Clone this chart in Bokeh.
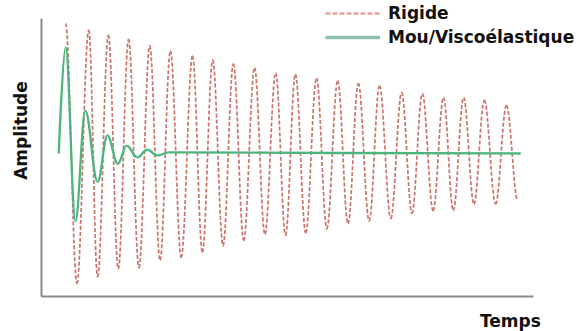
import numpy as np
from bokeh.plotting import figure
from bokeh.models import Label, Legend, LegendItem, Range1d, FixedTicker
from bokeh.embed import file_html
from bokeh.resources import INLINE

# ---- data ----
# Rigid response: alternating peaks / troughs (time, amplitude)
rigid_peak_t = [4.9, 9.6, 13.6, 17.7, 22.0, 26.2, 30.7, 34.8, 39.0, 43.3, 47.6,
                51.6, 55.9, 60.2, 64.4, 68.7, 73.2, 77.4, 81.7, 85.8, 90.0, 94.5]
rigid_peak_a = [1.00, 0.95, 0.91, 0.88, 0.83, 0.79, 0.75, 0.72, 0.69, 0.66, 0.62,
                0.61, 0.58, 0.56, 0.54, 0.52, 0.47, 0.46, 0.43, 0.43, 0.41, 0.37]
rigid_trough_t = [7.2, 11.4, 15.6, 19.8, 24.1, 28.4, 32.7, 36.9, 41.1, 45.4, 49.6,
                  53.7, 58.0, 62.3, 66.6, 71.0, 75.3, 79.6, 83.7, 87.9, 92.3, 96.8]
rigid_trough_a = [-1.00, -0.95, -0.89, -0.88, -0.82, -0.80, -0.76, -0.71, -0.67, -0.62, -0.63,
                  -0.61, -0.58, -0.54, -0.52, -0.50, -0.46, -0.44, -0.44, -0.39, -0.39, -0.36]

# Soft / viscoelastic response: start, extrema, then settled
soft_t = [3.5, 4.9, 6.9, 8.9, 11.4, 13.4, 15.5, 17.3, 19.5, 21.5, 23.6, 25.8, 97.4]
soft_a = [0.0, 0.82, -0.52, 0.33, -0.22, 0.14, -0.08, 0.06, -0.03, 0.03, -0.015, 0.008, 0.0]

labels_series = ["Rigide", "Mou/Viscoélastique"]
x_label = "Temps"
y_label = "Amplitude"

# axis extents (time 0..100, amplitude -1.1..1.04)
T_MIN, T_MAX = 0.0, 100.0
A_MIN, A_MAX = -1.1, 1.0385

RED = "#c97469"
GREEN = "#4db37f"
FONT = "DejaVu Sans"
K = 0.364  # bezier handle fraction for sine-like halves


def interleave(a, b):
    out = []
    for i in range(max(len(a), len(b))):
        if i < len(a):
            out.append(a[i])
        if i < len(b):
            out.append(b[i])
    return out


def bez_segments(ts, ys, first_free=False):
    d = dict(x0=[], y0=[], x1=[], y1=[], cx0=[], cy0=[], cx1=[], cy1=[])
    for i in range(len(ts) - 1):
        x0, y0, x1, y1 = ts[i], ys[i], ts[i + 1], ys[i + 1]
        dx = x1 - x0
        d["x0"].append(x0); d["y0"].append(y0)
        d["x1"].append(x1); d["y1"].append(y1)
        if first_free and i == 0:
            d["cx0"].append(x0); d["cy0"].append(y0)
        else:
            d["cx0"].append(x0 + K * dx); d["cy0"].append(y0)
        d["cx1"].append(x1 - K * dx); d["cy1"].append(y1)
    return d


rigid_t = interleave(rigid_peak_t, rigid_trough_t)
rigid_a = interleave(rigid_peak_a, rigid_trough_a)

W, H = 582, 331
p = figure(width=W, height=H, output_backend="svg", toolbar_location=None,
           x_range=Range1d(-8.333, 109.96), y_range=Range1d(-1.3692, 1.1769),
           min_border_left=0, min_border_right=0, min_border_top=0,
           min_border_bottom=0)
p.outline_line_color = None
p.grid.visible = False
p.background_fill_color = "white"
p.border_fill_color = "white"

p.xaxis.fixed_location = A_MIN
p.xaxis.bounds = (T_MIN, T_MAX)
p.yaxis.fixed_location = T_MIN
p.yaxis.bounds = (A_MIN, A_MAX)
for ax in (p.xaxis[0], p.yaxis[0]):
    ax.ticker = FixedTicker(ticks=[])
    ax.axis_line_color = "#8a8a8a"
    ax.axis_line_width = 2
    ax.major_tick_line_color = None
    ax.minor_tick_line_color = None

p.bezier(**bez_segments(rigid_t, rigid_a),
         line_color=RED, line_width=1.7, line_dash="4 2")
p.bezier(**bez_segments(soft_t, soft_a, first_free=True),
         line_color=GREEN, line_width=2.3)

# legend proxies (a single empty point each, so only the legend swatch shows)
nan = np.array([np.nan])
r_leg = p.line(x=nan, y=nan, line_color="#e2a59c", line_width=2.5, line_dash="5 2")
g_leg = p.line(x=nan, y=nan, line_color="#8fbfae", line_width=3.5)
legend = Legend(items=[LegendItem(label=labels_series[0], renderers=[r_leg]),
                       LegendItem(label=labels_series[1], renderers=[g_leg])],
                location=(325, 284), glyph_width=55, glyph_height=18,
                label_standoff=8, spacing=4, padding=0, margin=0,
                border_line_alpha=0, background_fill_alpha=0,
                label_text_font=FONT, label_text_font_style="bold",
                label_text_font_size="17px", label_text_color="#111111")
p.add_layout(legend, "center")

p.add_layout(Label(x=-4.1, y=0.177, text=y_label, angle=1.5708,
                   text_align="center", text_baseline="middle",
                   text_font=FONT, text_font_style="bold", text_font_size="17px",
                   text_color="#111111"))
p.add_layout(Label(x=95.3, y=-1.292, text=x_label,
                   text_align="center", text_baseline="alphabetic",
                   text_font=FONT, text_font_style="bold", text_font_size="17px",
                   text_color="#111111"))

open("out.html", "w").write(file_html(p, INLINE))
